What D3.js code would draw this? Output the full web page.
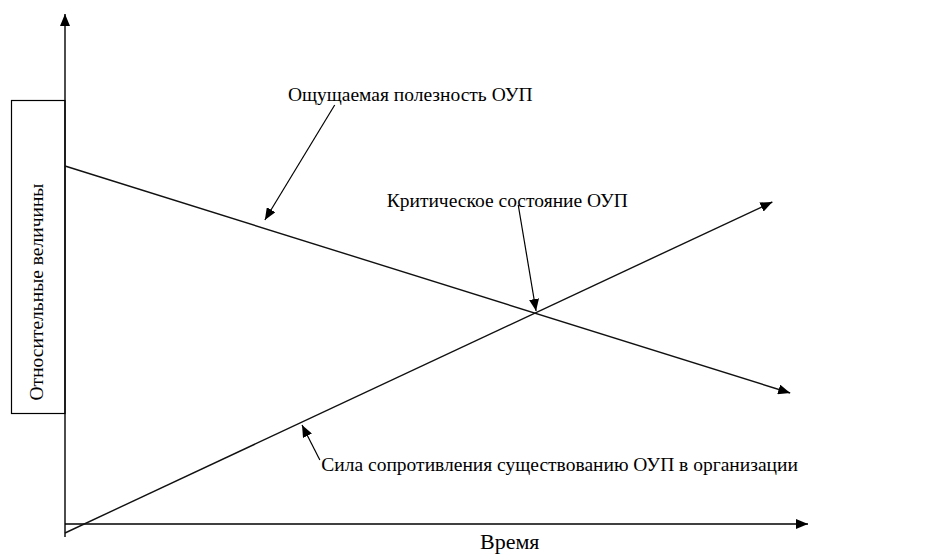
<!DOCTYPE html>
<html>
<head>
<meta charset="utf-8">
<script src="https://cdn.jsdelivr.net/npm/d3@7"></script>
<style>
  body { margin: 0; background: #fff; }
</style>
</head>
<body>
<div id="chart"></div>
<script>
// time / relative value, both on a 0..10 scale
var usefulness = [ {t: 0, v: 7.16}, {t: 9.76, v: 2.62} ];
var resistance = [ {t: 0, v: -0.18}, {t: 9.52, v: 6.44} ];

// callouts: text position and arrow (from -> to) in the same units
var notes = [
  {label: "Ощущаемая полезность ОУП", tx: 3.0, ty: 8.5, x1: 3.63, y1: 8.38, x2: 2.69, y2: 6.08},
  {label: "Критическое состояние ОУП", tx: 4.33, ty: 6.38, x1: 6.1, y1: 6.38, x2: 6.34, y2: 4.26},
  {label: "Сила сопротивления существованию ОУП в организации", tx: 3.45, ty: 1.1, x1: 3.43, y1: 1.28, x2: 3.19, y2: 1.98}
];

var xLabel = "Время";
var yLabel = "Относительные величины";

var width = 937, height = 554;
var serif = "'Liberation Serif'";

var svg = d3.select("#chart")
  .append("svg")
  .attr("width", width)
  .attr("height", height);

var x = d3.scaleLinear().domain([0, 10]).range([65, 808]);
var y = d3.scaleLinear().domain([0, 10]).range([524, 24]);

// arrow head
svg.append("defs").append("marker")
  .attr("id", "head")
  .attr("viewBox", "0 0 12 10")
  .attr("refX", 12)
  .attr("refY", 5)
  .attr("markerWidth", 12)
  .attr("markerHeight", 10)
  .attr("markerUnits", "userSpaceOnUse")
  .attr("orient", "auto")
  .append("path")
  .attr("d", "M0,0 L12,5 L0,10 Z")
  .attr("fill", "#000");

// y label box
svg.append("rect")
  .attr("x", 11.5)
  .attr("y", 100.5)
  .attr("width", x(0) - 11.5)
  .attr("height", 313)
  .attr("fill", "none")
  .attr("stroke", "#000")
  .attr("stroke-width", 1.2);

svg.append("text")
  .attr("text-anchor", "middle")
  .style("font-family", serif)
  .attr("transform", "translate(43,292)rotate(-90)")
  .style("font-size", "19.5px")
  .text(yLabel);

// axes (just the arrows, no ticks)
svg.append("line")
  .attr("x1", x(0)).attr("y1", y(-0.26))
  .attr("x2", x(0)).attr("y2", y(10.2))
  .attr("stroke", "#000").attr("stroke-width", 1.4)
  .attr("marker-end", "url(#head)");

svg.append("line")
  .attr("x1", x(0)).attr("y1", y(0))
  .attr("x2", x(10)).attr("y2", y(0))
  .attr("stroke", "#000").attr("stroke-width", 1.4)
  .attr("marker-end", "url(#head)");

svg.append("text")
  .attr("x", 480)
  .attr("y", 549)
  .style("font-family", serif)
  .style("font-size", "22px")
  .text(xLabel);

// the two lines
var line = d3.line()
  .x(function(d) { return x(d.t); })
  .y(function(d) { return y(d.v); });

[usefulness, resistance].forEach(function(s) {
  svg.append("path")
    .datum(s)
    .attr("d", line)
    .attr("fill", "none")
    .attr("stroke", "#111")
    .attr("stroke-width", 1.4)
    .attr("marker-end", "url(#head)");
});

// callouts
var g = svg.selectAll("g.note").data(notes).enter().append("g").attr("class", "note");

g.append("line")
  .attr("x1", function(d) { return x(d.x1); })
  .attr("y1", function(d) { return y(d.y1); })
  .attr("x2", function(d) { return x(d.x2); })
  .attr("y2", function(d) { return y(d.y2); })
  .attr("stroke", "#000")
  .attr("stroke-width", 1.2)
  .attr("marker-end", "url(#head)");

g.append("text")
  .attr("x", function(d) { return x(d.tx); })
  .attr("y", function(d) { return y(d.ty) + 2; })
  .style("font-family", serif)
  .style("font-size", "19.5px")
  .text(function(d) { return d.label; });
</script>
</body>
</html>
